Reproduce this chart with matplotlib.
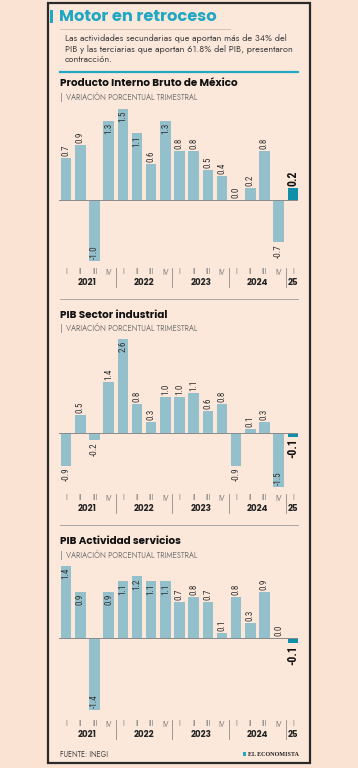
import matplotlib
matplotlib.use("Agg")
import matplotlib.pyplot as plt
from matplotlib.patches import Rectangle
from matplotlib.lines import Line2D

W, H = 358, 768

quarters = ["I", "II", "III", "IV"] * 4 + ["I"]
years = ["2021", "2022", "2023", "2024", "25"]

pib_total = [0.7, 0.9, -1.0, 1.3, 1.5, 1.1, 0.6, 1.3, 0.8, 0.8, 0.5, 0.4, 0.0, 0.2, 0.8, -0.7, 0.2]
pib_industrial = [-0.9, 0.5, -0.2, 1.4, 2.6, 0.8, 0.3, 1.0, 1.0, 1.1, 0.6, 0.8, -0.9, 0.1, 0.3, -1.5, -0.1]
pib_servicios = [1.4, 0.9, -1.4, 0.9, 1.1, 1.2, 1.1, 1.1, 0.7, 0.8, 0.7, 0.1, 0.8, 0.3, 0.9, 0.0, -0.1]

# bars whose label sits inside the bar end
inside_total = [2, 3, 4, 5, 7]
inside_industrial = [4, 15]
inside_servicios = [0, 1, 2, 3, 4, 5, 6, 7]

BG = "#fae3d3"
BOX = "#fce8db"
BAR = "#94c0cc"
LAST = "#108fa9"
TEAL = "#1fa7c3"
TXT = "#333333"

TITLE_FONT = "Poppins"
BODY_FONT = "Jost"
NUM_FONT = "Roboto Condensed"

fig = plt.figure(figsize=(W / 100, H / 100), dpi=100, facecolor=BG)


def fx(x):
    return x / W


def fy(y):
    return 1 - y / H


def hline(x0, x1, y, color, lw):
    fig.add_artist(Line2D([fx(x0), fx(x1)], [fy(y), fy(y)], color=color, lw=lw,
                          transform=fig.transFigure))


# outer box
fig.add_artist(Rectangle((fx(48), fy(763)), fx(310) - fx(48), fy(3) - fy(763),
                         transform=fig.transFigure, facecolor=BOX, edgecolor="#2a2a2a",
                         lw=1.6, zorder=-5))
fig.add_artist(Rectangle((fx(50), fy(23)), fx(3.2), fy(10) - fy(23),
                         transform=fig.transFigure, facecolor=TEAL, edgecolor="none"))

fig.text(fx(59), fy(17), "Motor en retroceso", fontsize=11.7, fontweight="bold",
         family=TITLE_FONT, color=TEAL, va="center", ha="left")
hline(60, 230, 28.5, "#c9beb6", 0.6)
intro = ("Las actividades secundarias que aportan más de 34% del\n"
         "PIB y las terciarias que aportan 61.8% del PIB, presentaron\n"
         "contracción.")
fig.text(fx(65), fy(34), intro, fontsize=6.6, family=BODY_FONT, color="#444444",
         va="top", ha="left", linespacing=1.25)
hline(60, 298, 72, TEAL, 1.6)


def draw_chart(values, inside, title, title_y, zero_px, scale, top_px, bottom_px, q_px):
    x0_px, x1_px = 59, 298
    ax = fig.add_axes([fx(x0_px), fy(bottom_px), fx(x1_px) - fx(x0_px), fy(top_px) - fy(bottom_px)])
    ax.set_facecolor("none")
    ax.set_xlim(-0.51, 16.37)
    ax.set_ylim((zero_px - bottom_px) / scale, (zero_px - top_px) / scale)
    ax.axis("off")

    n = len(values)
    xs = list(range(n))
    colors = [BAR] * (n - 1) + [LAST]
    ax.bar(xs, values, width=0.74, color=colors, zorder=2)
    ax.axhline(0, color="#8a8a8a", lw=0.7, zorder=3)

    pad = 2 / scale
    for i, v in enumerate(values):
        last = i == n - 1
        pos = v >= 0
        if i in inside:
            y = v - pad if pos else v + pad
            va = "top" if pos else "bottom"
        else:
            y = v + pad if pos else v - pad
            va = "bottom" if pos else "top"
        ax.text(i, y, f"{v:.1f}", rotation=90, ha="center", va=va,
                family=NUM_FONT, fontsize=8.6 if last else 6.6,
                fontweight="bold" if last else "normal",
                color="#111111" if last else TXT, zorder=4)

    def py(p):
        return (zero_px - p) / scale

    for i, q in enumerate(quarters):
        ax.text(i, py(q_px), q, ha="center", va="center", family=BODY_FONT,
                fontsize=5.2, color="#777777")
    for k, yr in enumerate(years):
        xc = 4 * k + 1.5 if k < 4 else 16
        ax.text(xc, py(q_px + 10.5), yr, ha="center", va="center", family=TITLE_FONT,
                fontsize=6.2, fontweight="bold", color="#222222")
    for xb in (3.5, 7.5, 11.5, 15.5):
        ax.plot([xb, xb], [py(q_px - 4), py(q_px + 15)], color="#8a8a8a", lw=0.6,
                clip_on=False)

    fig.text(fx(60), fy(title_y), title, fontsize=7.5, fontweight="bold", family=TITLE_FONT,
             color="#111111", va="center", ha="left")
    fig.add_artist(Line2D([fx(61), fx(61)], [fy(title_y + 9), fy(title_y + 17)],
                          color="#999999", lw=0.7, transform=fig.transFigure))
    fig.text(fx(66), fy(title_y + 13), "VARIACIÓN PORCENTUAL TRIMESTRAL", fontsize=5.5,
             family=BODY_FONT, color="#777777", va="center", ha="left")


draw_chart(pib_total, inside_total, "Producto Interno Bruto de México", 84,
           zero_px=200, scale=60.7, top_px=100, bottom_px=290, q_px=272)
hline(60, 298, 299, "#9a9a9a", 0.6)
draw_chart(pib_industrial, inside_industrial, "PIB Sector industrial", 315,
           zero_px=433, scale=36.2, top_px=335, bottom_px=515, q_px=498)
hline(60, 298, 524.5, "#9a9a9a", 0.6)
draw_chart(pib_servicios, inside_servicios, "PIB Actividad servicios", 542,
           zero_px=638, scale=51.4, top_px=560, bottom_px=742, q_px=724)

fig.text(fx(60), fy(754), "FUENTE: INEGI", fontsize=5.2, family=BODY_FONT,
         color="#444444", va="center", ha="left")
fig.add_artist(Rectangle((fx(243), fy(756)), fx(3), fy(752) - fy(756),
                         transform=fig.transFigure, facecolor=TEAL, edgecolor="none"))
fig.text(fx(248), fy(754), "EL ECONOMISTA", fontsize=4.4, family="Liberation Serif",
         fontweight="bold", color="#222222", va="center", ha="left")

fig.savefig("out.png", dpi=100, facecolor=BG)
